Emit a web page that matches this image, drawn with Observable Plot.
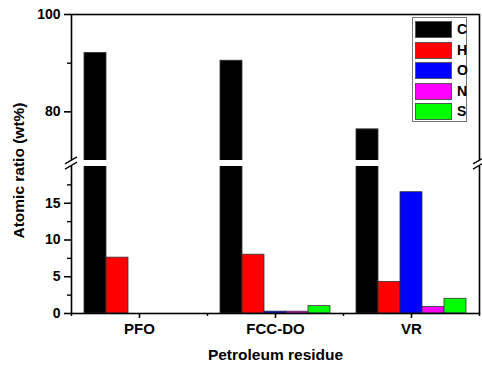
<!DOCTYPE html>
<html>
<head>
<meta charset="utf-8">
<script src="https://cdn.jsdelivr.net/npm/d3@7"></script>
<script src="https://cdn.jsdelivr.net/npm/@observablehq/plot@0.6"></script>
<style>
  html, body { margin: 0; padding: 0; background: #fff; }
  #wrap { position: relative; width: 482px; height: 369px; font-family: "Liberation Sans", Arial, sans-serif; font-weight: bold; }
  #legend { position: absolute; left: 412px; top: 17px; width: 53px; height: 103px; border: 1px solid #777; background: #fff; }
  .item { position: absolute; left: 2px; width: 50px; height: 17px; }
  .sw { position: absolute; left: 0; top: 0; width: 35px; height: 15px; border: 1px solid #555; }
  .lab { position: absolute; left: 42px; top: 0; line-height: 17px; font-size: 14px; color: #000; }
</style>
</head>
<body>
<div id="wrap"></div>
<script>
const residues = ["PFO", "FCC-DO", "VR"];
const elements = ["C", "H", "O", "N", "S"];
const colors = ["#000000", "#ff0000", "#0000ff", "#ff00ff", "#00ff00"];
const valuesC = [92.1, 90.5, 76.4];
const valuesH = [7.6, 8.0, 4.3];
const valuesO = [0, 0.25, 16.5];
const valuesN = [0, 0.25, 0.9];
const valuesS = [0, 1.0, 2.0];
const yMajorTicks = [0, 5, 10, 15, 80, 100];
const yMinorTicks = [2.5, 7.5, 12.5, 17.5, 90];

const series = [valuesC, valuesH, valuesO, valuesN, valuesS];
const data = [];
residues.forEach((r, i) => elements.forEach((e, j) => data.push({residue: r, ri: i, element: e, ej: j, value: series[j][i]})));

const bw = 22 / 136; // bar width in group units
const x1 = d => d.ri + 0.5 + (d.ej - 2.5) * bw;
const x2 = d => d.ri + 0.5 + (d.ej - 1.5) * bw;

const chart = Plot.plot({
  width: 482,
  height: 369,
  marginLeft: 71,
  marginRight: 3,
  marginTop: 14,
  marginBottom: 56,
  style: {fontFamily: "Liberation Sans, Arial, sans-serif", fontWeight: "bold", background: "#fff", color: "#000"},
  x: {type: "linear", domain: [0, 3]},
  y: {type: "linear", domain: [0, 20, 70, 100], range: [313, 166, 160, 14]},
  color: {domain: elements, range: colors},
  marks: [
    Plot.rect(data, {x1, x2, y1: 0, y2: "value", fill: "element", stroke: "#333", strokeWidth: 0.8}),
    Plot.frame({stroke: "#000", strokeWidth: 1.6}),
    Plot.rect([0], {y1: 20, y2: 70, fill: "#fff", insetLeft: -5, insetRight: -5}),
    Plot.axisY({ticks: yMajorTicks, tickSize: 7, tickPadding: 4, fontSize: 14, strokeWidth: 1.6, label: null}),
    Plot.axisY({ticks: yMinorTicks, tickSize: 4, tickFormat: () => "", strokeWidth: 1.4, label: null}),
    Plot.axisX({ticks: [0.5, 1.5, 2.5], tickSize: 5, tickPadding: 5, fontSize: 15, strokeWidth: 1.6, tickFormat: v => residues[Math.floor(v)], label: null}),
    Plot.axisX({ticks: [0, 1, 2, 3], tickSize: 3, tickFormat: () => "", strokeWidth: 1.4, label: null}),
    Plot.text(["Petroleum residue"], {frameAnchor: "bottom", dy: 46, fontSize: 15.5, fontWeight: "bold"}),
    Plot.text(["Atomic ratio (wt%)"], {frameAnchor: "left", textAnchor: "middle", dx: -52, dy: 6.5, rotate: -90, fontSize: 15.5, fontWeight: "bold"})
  ]
});

// break marks on the left and right axis lines
const svg = d3.select(chart);
const ys = chart.scale("y"), xs = chart.scale("x");
const cy = ys.apply(45);
[xs.apply(0), xs.apply(3)].forEach(cx => {
  [-2.6, 2.6].forEach(off => {
    svg.append("line")
      .attr("x1", cx - 6).attr("y1", cy + 3.5 + off)
      .attr("x2", cx + 6).attr("y2", cy - 3.5 + off)
      .attr("stroke", "#000").attr("stroke-width", 1.3);
  });
});

const wrap = document.getElementById("wrap");
wrap.appendChild(chart);

const legend = document.createElement("div");
legend.id = "legend";
elements.forEach((e, k) => {
  const it = document.createElement("div");
  it.className = "item";
  it.style.top = (3 + k * 20.6) + "px";
  it.innerHTML = `<div class="sw" style="background:${colors[k]}"></div><div class="lab">${e}</div>`;
  legend.appendChild(it);
});
wrap.appendChild(legend);
</script>
</body>
</html>
